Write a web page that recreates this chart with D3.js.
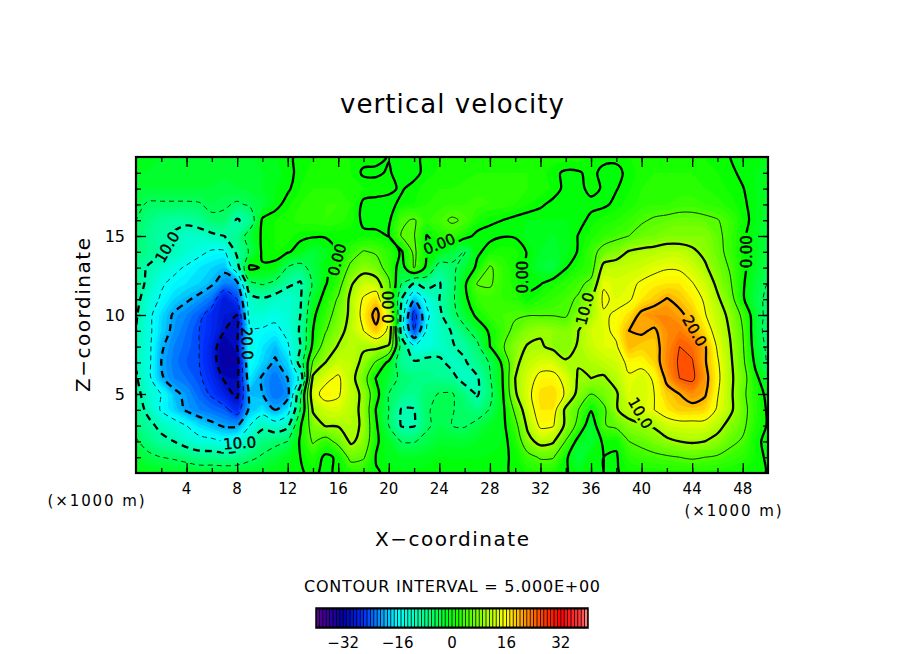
<!DOCTYPE html>
<html>
<head>
<meta charset="utf-8">
<script src="https://cdn.jsdelivr.net/npm/d3@7"></script>
<style>
body { margin:0; background:#fff; }
text { font-family:"DejaVu Sans"; fill:#000; }
</style>
</head>
<body>
<svg></svg>
<script>
// vertical velocity, one row per km of height, top row z=20, columns x=0..50 km
var w20 = [-2,-2,-2,-2,-2,-2,-2,-2,-2,-2, -1.5,-1,-.4,.5,1,1,1,1,.6,.4, -.1,-.6,-.4,.4,1,1,1.5,1.5,1.5,1.5, 1.5,1.5,1.5,1.5,1.5,1.5,1,.5,.4,1, 1.5,1.5,1.5,1.5,1.5,1,.5,0,-.5,-1,-1]
var w19 = [-2,-2,-2.5,-2.5,-2.5,-2.5,-2.5,-2.5,-2.5,-2.5, -2,-1.5,-.5,.5,1.5,1.5,1.5,1,-.3,-.3, .2,-.8,-.6,.6,1.2,1.5,1.5,2,2,2, 2,2,1.5,.4,-.3,-.2,.5,-.5,-.5,.5, 1.5,2,2,2,2,1.5,1,.4,-.4,-1,-1.5]
var w18 = [-3,-3,-3,-3,-3,-3,-3,-3.5,-3,-2.5, -2,-1,-.3,1,2,2,2,1.5,1,.8, .3,-.2,.6,1.5,2,2,2.5,2.5,2.5,2.5, 2.5,2,1.5,.8,-.5,-.5,.5,-.2,-.1,.8, 2,2.5,2.5,2.5,2.5,2,1.5,.8,.1,-1,-2]
var w17 = [-4,-5.5,-5.5,-5.5,-5.5,-5.3,-4,-4.5,-5.5,-4.5, -3,-.7,.7,2,2.5,3,3,2,-.5,-.7, -.5,.4,1,2,2.5,3,3,3.5,3,2.5, 2,1,.3,-.5,-.7,-.7,-.5,-.4,.5,1.5, 2.5,3,3,3.5,3.5,3,2.5,1.5,.5,-1,-2.5]
var w16 = [-5,-7,-8.5,-9,-9,-8,-6,-6,-10.5,-8, .5,1,1.5,2.5,2.5,3,2.5,1.5,-.5,-1, -.6,4.5,5.3,3,4,5.5,4.5,1.5,.3,0, -.7,-1,-1,-1,-1,-.7,.5,1.5,2,3, 4.5,5.5,6,6.5,6.5,6,5.2,3.5,1,-1,-3]
var w15 = [-6,-8,-9.5,-10.5,-12,-12,-11,-10,-8,-3, .5,1,1.5,.5,.3,.2,.2,.2,.5,.7, -.1,5.2,5.2,-.2,2,3,1,-.7,-.6,-.1, -.2,-1.5,-2,-2,-1.5,.1,1.5,3,4,5, 6.5,7,8,8,8,8,6,3.5,.5,-1.5,-3.5]
var w14 = [-6.5,-8,-9.5,-11,-12.5,-14,-15.5,-15.5,-9,-4.5, .5,1,.3,-1,-3,-1.5,.2,3,5.3,4.5, 2.5,-.5,6,-.3,-1,-3,-5.2,-.5,1,1.5, 1.3,-.2,-2,-2.5,-1.5,.2,3.5,6.5,8,10.3, 11,11.5,12,12,10.8,9,6.5,3.5,.6,-1.5,-3.5]
var w13 = [-8,-10.5,-12,-14,-15.5,-17,-18,-19,-12,.8, -.3,-.8,-5.3,-6.5,-3.5,-.7,1.5,6,8.5,7, 3,-2,5.3,-1,-7,-6,-3,.7,5.5,3, 1,-.5,-3,-3.5,-.2,1.5,3,11.5,12,12.5, 13,14,14.7,14.5,13,10.7,7.5,4.6,.8,-2,-4]
var w12 = [-8,-11,-14.5,-16,-17,-18,-19.5,-22,-21,-6, -4.5,-6,-9,-10.5,-4.5,-.3,3,9.5,12.5,12, 6,-5,-10,-8,-10.3,-6.5,-.7,5.2,5.5,3, 1.5,-.5,-.2,1.5,2.5,4,6,14.5,13.5,14, 15.5,16.5,17,17,15.2,13,9,5.5,.5,-3,-5.2]
var w11 = [-8.5,-13,-15.5,-18,-19.5,-21,-23,-29,-25,-12, -10.5,-12,-13,-10.5,-2.5,1.5,5.5,11,15.5,18, 7,-10,-19.5,-14,-10,-6,-1,3,3.5,3, 2.5,.5,2,3,4,5.5,9.5,15.8,14,14.5, 17,18.5,20.2,19,17,14.5,10.7,7,.5,-3.5,-6]
var w10 = [-9.5,-14,-17.5,-20.5,-22,-24,-27,-29,-30,-13, -13,-14,-13,-10,-.8,3,7,11,16.5,21.5, 14,-12,-27,-16,-11,-6.5,-3,1,3,4, 4.5,4.8,4.8,4.8,4.5,8,10.7,14.5,15.5,17.5, 21,22,22,20.7,19,15.3,12,9,4,-2.5,-6.5]
var w9 = [-10,-14,-18,-21,-23,-25,-27,-30,-31,-15, -15.5,-16,-14,-9.5,0,4.7,8.5,11.5,15,19, 14,-12,-25,-14.5,-11.5,-9.8,-6,-3,.7,3.5, 6,8.5,9.5,9,8,10,13,14,16,20, 20.5,19.5,22,23,21,17.5,13,9.7,5,-2.5,-7]
var w8 = [-10.5,-14,-19.5,-22,-23.5,-25,-28,-33,-30,-14, -17,-19,-15.5,-10,1,7.5,10.3,11.5,10.5,11, 9.5,-7,-14,-13.5,-12,-10.3,-9,-6,0,4.5, 8.5,10.3,10.5,9,8,10.5,12.5,14,14.5,19.5, 18.5,18.5,22,25,24,20.5,14.5,10.3,5.5,-2,-6]
var w7 = [-10.5,-14,-20,-22.5,-24,-25,-28,-33,-32,-15, -18,-20.5,-18,-8,5.5,10,12.5,12,9,4.5, -1,-8,-9.5,-8.5,-9,-11.5,-10.5,-7.5,-4.7,.8, 9,12,13.5,13.5,10.5,10.3,11,12,13,16, 16,18,22.5,25.5,25.3,20.5,15.5,10.8,6,-.8,-5.5]
var w6 = [-9.5,-14,-19.5,-22,-23,-24.5,-27,-30.5,-31,-17, -20.5,-23,-20,-14,11,14,15.7,11.5,7,-.3, -3,-6,-7,-7.5,-8,-8.5,-12,-10.5,-5.3,0, 10,13.5,16,16,14,9.5,10,9.5,11.5,14.5, 13.5,15.5,21,25,25.8,21.5,16,11,7,1,-3]
var w5 = [-8.5,-12.5,-15,-19,-21,-23.5,-25.5,-28,-31,-19, -20,-23,-21.5,-6,13.5,16.5,15.5,12,9,1.5, -5,-7,-8,-6,-4.8,-4.7,-7,-10.5,-6,-.5, 9.5,14,17.5,18,14.5,8.5,5,7,9.5,14, 13,15,18.5,20,22,20.5,15.3,11,6,2,-1]
var w4 = [-8,-11,-15.5,-18,-20.5,-22,-23,-24,-27,-19, -17,-20,-17,-5,10.5,13,13.5,11.5,9,-.3, -5,-10.3,-10.2,-5.2,-4.5,-4.8,-6,-7,-4.8,-1, 6,13,17,17,9,5,.3,4,9.7,12, 13.5,15,17,18.5,18.5,18,14.5,11,6.5,2.5,-.5]
var w3 = [-7,-9,-11,-13,-15,-17.5,-19,-20.5,-20.5,-15, -11,-13,-11,-.5,7.5,10.3,10.3,11,9.5,.5, -5,-10.3,-10.3,-5.5,-4,-5,-5.3,-3.8,-2,-1, 3.5,11,15.7,15.3,9,3.5,-3,4.7,6,8.5, 9.5,10.5,13,13.5,13.5,13.5,11.5,8.5,6,2,-.3]
var w2 = [-4.5,-7,-9,-10,-12,-13.5,-14,-15,-14,-10.5, -7,-6,-5,.5,5.5,3,6.5,10.7,8.5,.5, -2,-5.2,-5.2,-4,-2.5,-2.5,-2.5,-2,-1.7,-1, 1.5,8.5,11.5,10.5,4.7,-1.5,-2.5,.5,.5,5, 6,7.5,9,10,10.5,10,8.5,6,4.5,.7,-.8]
var w1 = [-2.5,-4,-5,-5.5,-6.5,-7.5,-7.5,-8,-7.5,-6, -4.5,-3,-1.5,0,2,-.7,.5,6.5,5.5,-.2, -1.5,-2,-2,-1.5,-1,-1,-1,-1,-.8,-.5, .5,3.5,5.5,5.3,.7,-3.5,-.3,0,-.3,2.5, 3.5,4,4.5,5,5.5,5,4.5,3.5,2.5,1,-.5]
var w0 = [-.8,-1,-1.5,-2,-2,-2.5,-2.5,-2.5,-2.5,-2, -1.5,-1,-.5,-.2,.4,-.5,.4,1.5,1.5,.2, -.4,-.7,-.7,-.5,-.4,-.4,-.4,-.4,-.3,-.2, .2,1.2,1.5,1.2,.2,-1,-.2,0,-.2,.6, 1,1.2,1.5,1.5,1.5,1.5,1.2,1,.7,.4,-.1]
var rows = [w20,w19,w18,w17,w16,w15,w14,w13,w12,w11,w10,w9,w8,w7,w6,w5,w4,w3,w2,w1,w0]

var xTicks = [4,8,12,16,20,24,28,32,36,40,44,48]
var zTicks = [5,10,15]
var barTicks = [-32,-16,0,16,32]
var lineLevels = [-30,-25,-20,-15,-10,-5,0,5,10,15,20,25]
var colorStops = [-40,-36,-32,-26,-16,-8,0,8,16,20,26,32,38,40]
var colorValues = ["#5a0090","#30009c","#0000a8","#0030ff","#00ffff","#00ff90","#00ff00","#80ff00","#ffff00","#ffb000","#ff4800","#ff0000","#ff4040","#ff9090"]

// contour labels: text, x km, z km, angle
var labels = [
  ["10.0",2.45,14.3,-60],
  ["10.0",8.2,1.9,-4],
  ["0.00",15.9,13.5,-75],
  ["20.0",8.8,8.2,88],
  ["0.00",20,10.5,-90],
  ["0.00",24,14.5,-22],
  ["0.00",30.6,12.4,-90],
  ["10.0",35.5,10.4,-75],
  ["20.0",44.2,9,60],
  ["10.0",39.9,3.8,60],
  ["0.00",48.3,14,-90]
]

var screen = {width:904, height:654}
var margins = {top:157, bottom:181, left:136, right:136}

var svg = d3.select("svg").attr("width",screen.width).attr("height",screen.height)
    .style("display","block")

var xScale = d3.scaleLinear().domain([0,50]).range([margins.left,screen.width-margins.right])
var zScale = d3.scaleLinear().domain([0,20]).range([screen.height-margins.bottom,margins.top])
var cScale = d3.scaleLinear().domain(colorStops).range(colorValues)

var values = rows.flat()
var nx = w20.length, nz = rows.length

// grid node i sits at contour coordinate i+.5, rings get rounded with a closed curve
var ring = d3.line()
    .x(function(p){return xScale(p[0]-.5)})
    .y(function(p){return zScale(nz-1-(p[1]-.5))})
    .curve(d3.curveCatmullRomClosed.alpha(.5))
var path = function(d)
{
    return d.coordinates.map(function(poly){
        return poly.map(function(r){return ring(r.slice(0,-1))}).join("")
    }).join("")
}

var defs = svg.append("defs")
defs.append("clipPath").attr("id","plotclip").append("rect")
    .attr("x",xScale(0)).attr("y",zScale(20))
    .attr("width",xScale(50)-xScale(0)).attr("height",zScale(0)-zScale(20))

var mask = defs.append("mask").attr("id","labelgap").attr("maskUnits","userSpaceOnUse")
    .attr("x",0).attr("y",0).attr("width",screen.width).attr("height",screen.height)
mask.append("rect").attr("width",screen.width).attr("height",screen.height).attr("fill","#fff")
mask.selectAll(".gap").data(labels).enter().append("rect")
    .attr("class","gap").attr("x",-19).attr("y",-8).attr("width",38).attr("height",16).attr("fill","#000")
    .attr("transform",function(d){return "translate("+xScale(d[1])+","+zScale(d[2])+") rotate("+d[3]+")"})

var plot = svg.append("g").attr("clip-path","url(#plotclip)")

var bands = d3.contours().size([nx,nz]).thresholds(d3.range(-40,40))(values)
plot.append("g").selectAll("path").data(bands).enter().append("path")
    .attr("d",path)
    .attr("fill",function(d){return cScale(d.value+.5)})

var lines = d3.contours().size([nx,nz]).thresholds(lineLevels)(values)
plot.append("g").attr("mask","url(#labelgap)")
    .selectAll("path").data(lines).enter().append("path")
    .attr("d",path)
    .attr("fill","none")
    .attr("stroke","#000")
    .attr("stroke-linejoin","round")
    .attr("stroke-width",function(d){return d.value%10==0 ? 2.3 : .8})
    .attr("stroke-dasharray",function(d){
        if(d.value>=0) return null
        return d.value%10==0 ? "7,5" : "5,4"
    })

svg.append("g").selectAll("text").data(labels).enter().append("text")
    .attr("transform",function(d){return "translate("+xScale(d[1])+","+zScale(d[2])+") rotate("+d[3]+")"})
    .attr("text-anchor","middle").attr("dy","0.36em")
    .style("font-size","15px").style("stroke","#000").style("stroke-width",".4")
    .attr("textLength",33).attr("lengthAdjust","spacing")
    .text(function(d){return d[0]})

// frame and inward ticks on all sides
var drawAxis = function(axis,x,y,vals,size)
{
    svg.append("g").attr("transform","translate("+x+","+y+")")
        .call(axis.tickValues(vals).tickSize(size).tickFormat(""))
        .call(function(g){g.select(".domain").remove()})
        .selectAll("line").attr("stroke","#000").attr("stroke-width",1.3)
}
var minorX = d3.range(2,50,2), minorZ = d3.range(1,20)
drawAxis(d3.axisBottom(xScale),0,zScale(0),minorX,-5)
drawAxis(d3.axisBottom(xScale),0,zScale(0),xTicks,-10)
drawAxis(d3.axisTop(xScale),0,zScale(20),minorX,-5)
drawAxis(d3.axisTop(xScale),0,zScale(20),xTicks,-10)
drawAxis(d3.axisLeft(zScale),xScale(0),0,minorZ,-5)
drawAxis(d3.axisLeft(zScale),xScale(0),0,zTicks,-10)
drawAxis(d3.axisRight(zScale),xScale(50),0,minorZ,-5)
drawAxis(d3.axisRight(zScale),xScale(50),0,zTicks,-10)

svg.append("rect").attr("x",xScale(0)).attr("y",zScale(20))
    .attr("width",xScale(50)-xScale(0)).attr("height",zScale(0)-zScale(20))
    .attr("fill","none").attr("stroke","#000").attr("stroke-width",2.2)

svg.append("g").selectAll("text").data(xTicks).enter().append("text")
    .attr("x",function(d){return xScale(d)}).attr("y",494)
    .attr("text-anchor","middle").style("font-size","15px")
    .text(function(d){return d})

svg.append("g").selectAll("text").data(zTicks).enter().append("text")
    .attr("x",125).attr("y",function(d){return zScale(d)+6})
    .attr("text-anchor","end").style("font-size","16px")
    .text(function(d){return d})

var addText = function(str,x,y,size,len,angle)
{
    svg.append("text")
        .attr("transform","translate("+x+","+y+") rotate("+(angle||0)+")")
        .attr("text-anchor","middle").style("font-size",size+"px")
        .attr("textLength",len).attr("lengthAdjust","spacing")
        .text(str)
}
addText("vertical velocity",452,113,26,224)
addText("X\u2212coordinate",452,546,20,154)
addText("Z\u2212coordinate",90,315,20,154,-90)
addText("(\u00d71000 m)",96,506,15,97)
addText("(\u00d71000 m)",733,516,15,97)
addText("CONTOUR INTERVAL = 5.000E+00",452,592,16,296)

// colour bar, one stripe per unit
var barScale = d3.scaleLinear().domain([-40,40]).range([316,588])
svg.append("rect").attr("x",316).attr("y",608).attr("width",272).attr("height",20).attr("fill","#000")
svg.append("g").selectAll("rect").data(d3.range(-40,40)).enter().append("rect")
    .attr("x",function(d){return barScale(d)+.4})
    .attr("y",609.5).attr("height",17)
    .attr("width",barScale(1)-barScale(0)-.8)
    .attr("fill",function(d){return cScale(d+.5)})
svg.append("rect").attr("x",316).attr("y",608).attr("width",272).attr("height",20)
    .attr("fill","none").attr("stroke","#000").attr("stroke-width",1.5)
svg.append("g").selectAll("text").data(barTicks).enter().append("text")
    .attr("x",function(d){return barScale(d)}).attr("y",648)
    .attr("text-anchor","middle").style("font-size","15px")
    .text(function(d){return d<0 ? "\u2212"+(-d) : d})
</script>
</body>
</html>
